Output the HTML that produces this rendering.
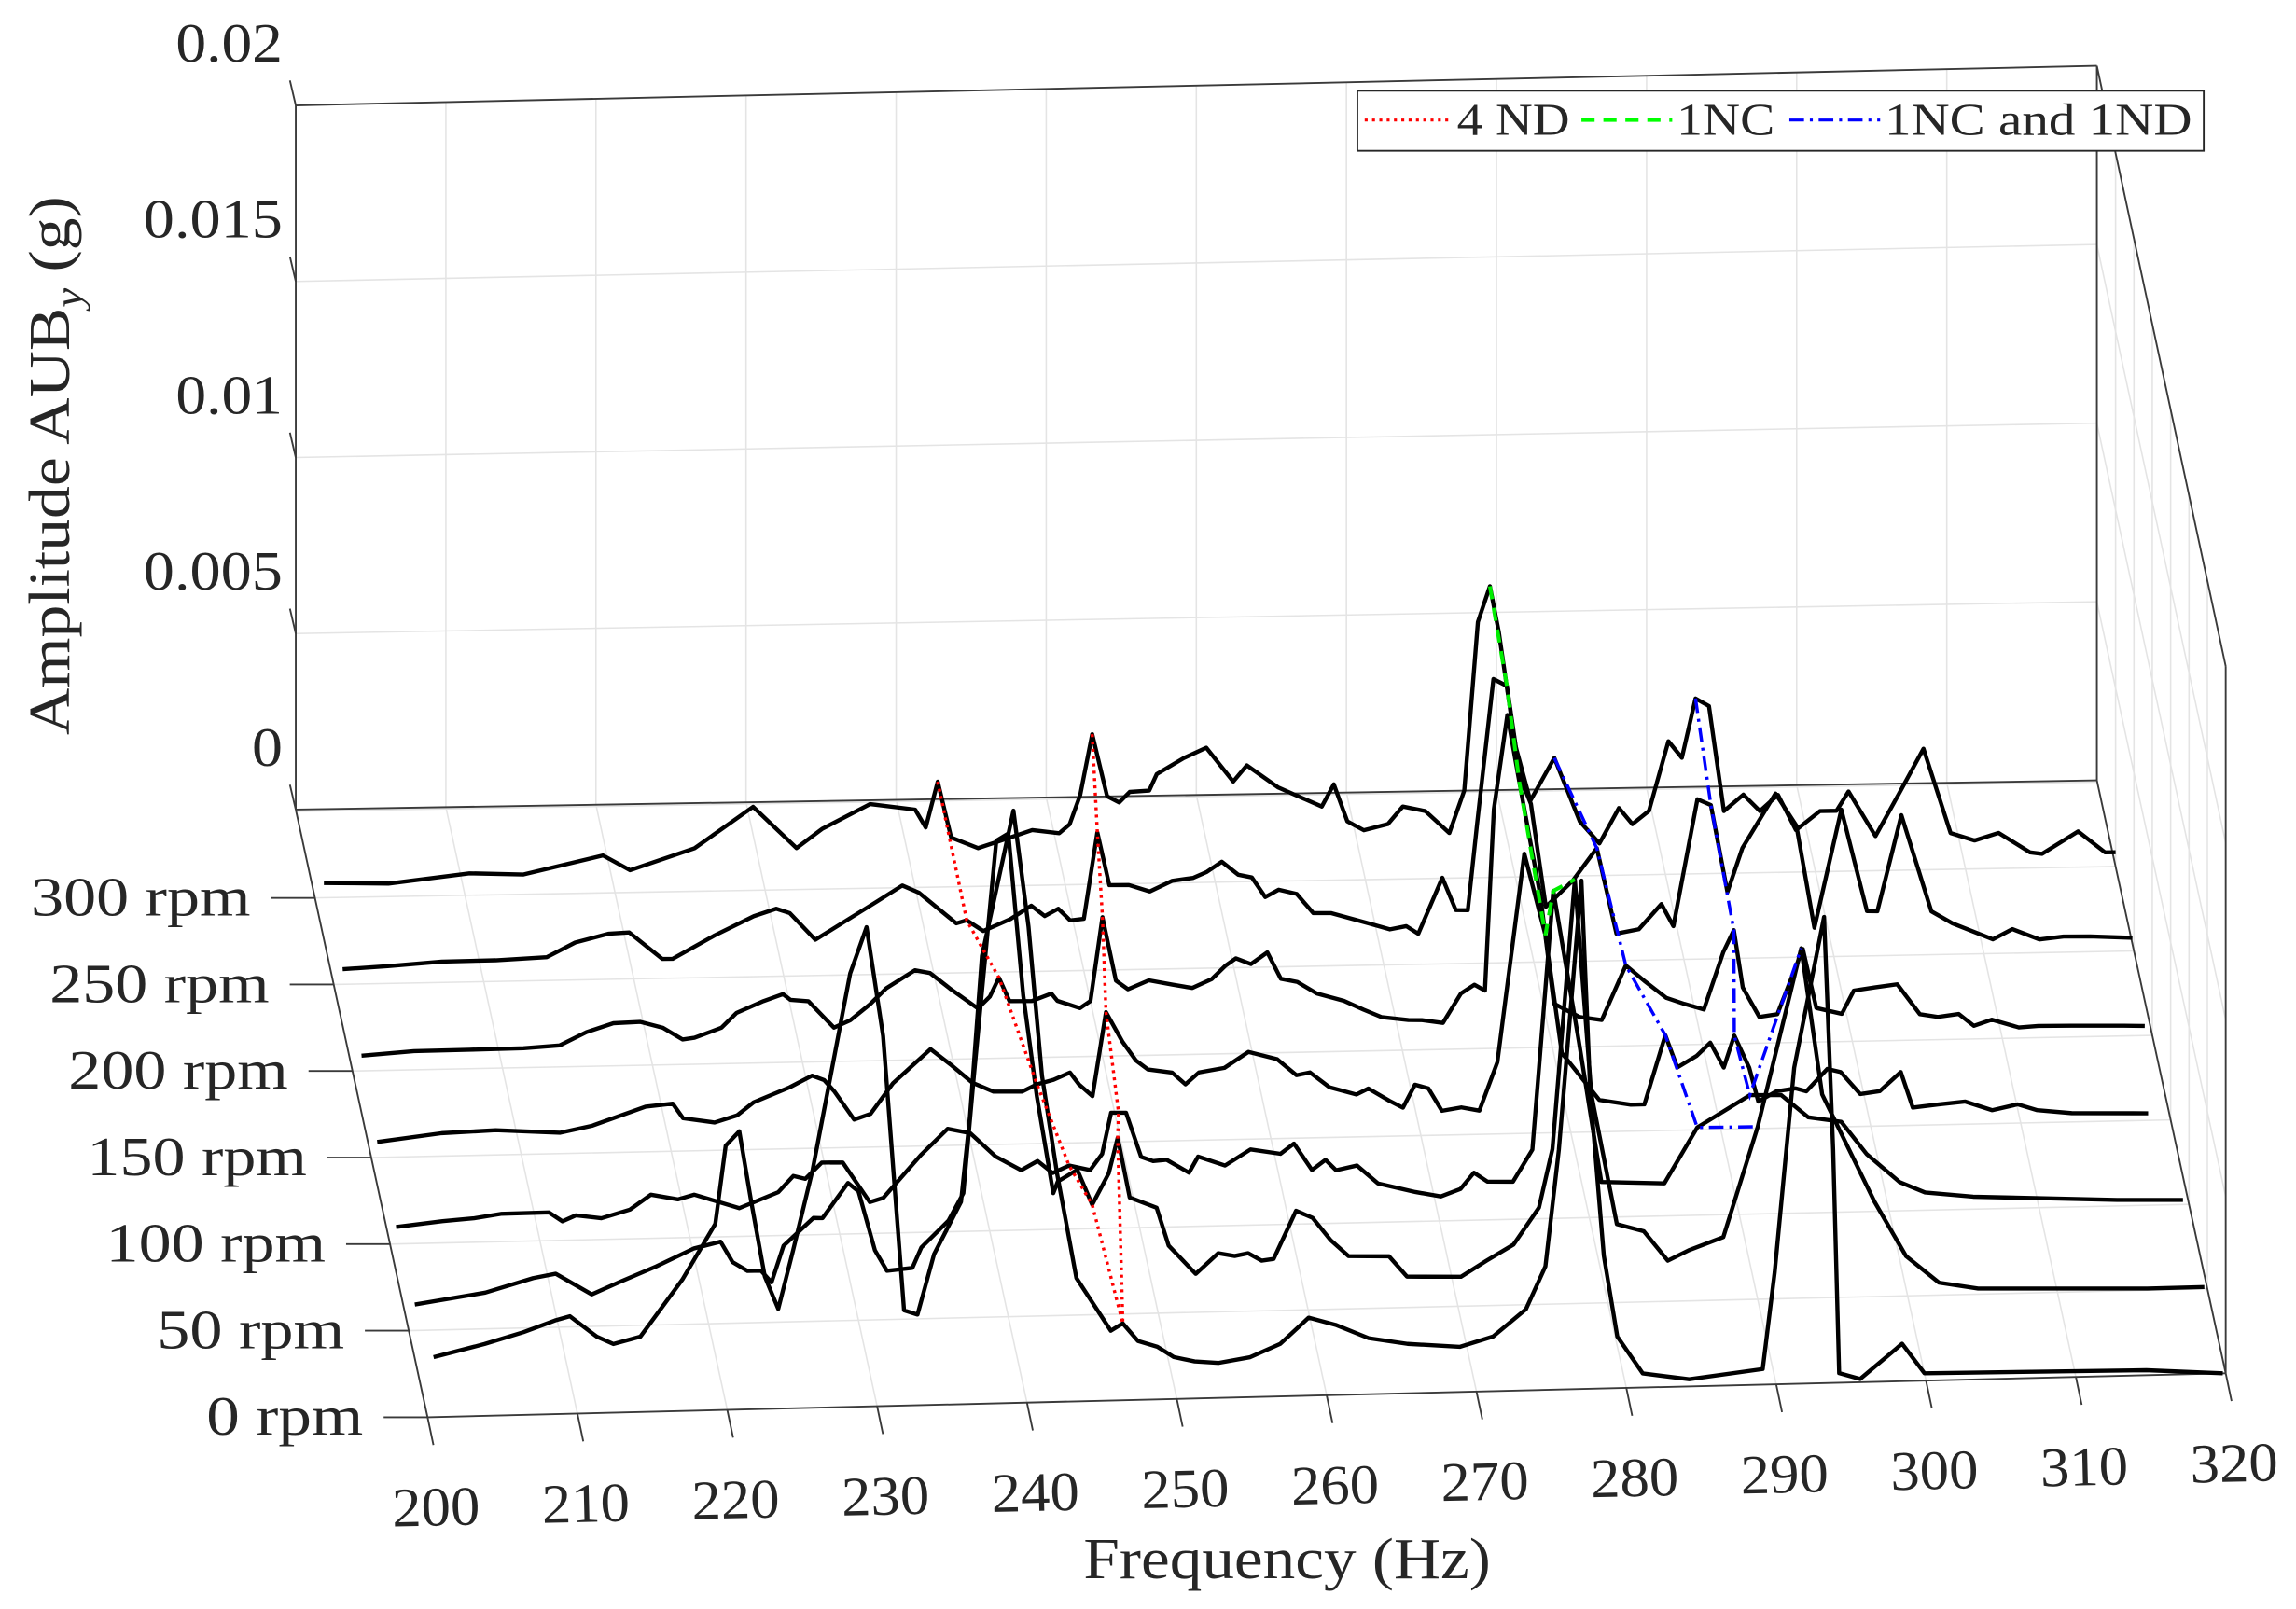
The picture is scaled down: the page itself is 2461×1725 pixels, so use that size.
<!DOCTYPE html>
<html><head><meta charset="utf-8"><style>
html,body{margin:0;padding:0;background:#fff;}
svg{display:block;}
text{font-family:"Liberation Serif",serif;fill:#262626;}
</style></head>
<body>
<svg id="chart" width="2461" height="1725" viewBox="0 0 1568 1099" preserveAspectRatio="none" xmlns="http://www.w3.org/2000/svg">
<rect x="0" y="0" width="1568" height="1099" fill="#fff"/>
<g id="grid"></g>
<g id="box"></g>
<g id="traces"></g>
<g id="modes"></g>
<g id="labels"></g>
<text transform="translate(47,318) rotate(-90)" text-anchor="middle" font-size="40" textLength="368" lengthAdjust="spacingAndGlyphs">Amplitude AUB<tspan font-size="27" font-style="italic" dy="9">y</tspan><tspan dy="-9">  (g)</tspan></text>
<text x="879" y="1078" text-anchor="middle" font-size="40" textLength="278" lengthAdjust="spacingAndGlyphs">Frequency (Hz)</text>
<g>
<rect x="927" y="62" width="578" height="41" fill="#fff" stroke="#262626" stroke-width="1.2"/>
<line x1="932" y1="82" x2="990" y2="82" stroke="#ff0000" stroke-width="2" stroke-dasharray="2,3"/>
<text x="995" y="92" font-size="31" textLength="77" lengthAdjust="spacingAndGlyphs">4 ND</text>
<line x1="1080" y1="82" x2="1142" y2="82" stroke="#00ff00" stroke-width="2.5" stroke-dasharray="9,6"/>
<text x="1145" y="92" font-size="31" textLength="67" lengthAdjust="spacingAndGlyphs">1NC</text>
<line x1="1222" y1="82" x2="1284" y2="82" stroke="#0000ff" stroke-width="2" stroke-dasharray="10,4,2,4"/>
<text x="1287" y="92" font-size="31" textLength="210" lengthAdjust="spacingAndGlyphs">1NC and 1ND</text>
</g>
</svg>
<script>
// ---- data (frequency in Hz, amplitude in 1e-3 g) ----
const rpms = [0, 50, 100, 150, 200, 250, 300];
const rpmTicks = ['0 rpm','50 rpm','100 rpm','150 rpm','200 rpm','250 rpm','300 rpm'];
const freqTicks = [200,210,220,230,240,250,260,270,280,290,300,310,320];
const ampTicks = [0, 5, 10, 15, 20];
const ampTickLabels = ['0','0.005','0.01','0.015','0.02'];

const f0 = [200.4,203.8,206.4,208.5,209.5,211.3,212.4,214.2,217.0,219.2,219.9,220.8,221.6,222.5,223.4,224.4,225.7,226.8,228.2,229.3,230.4,231.8,232.7,233.8,235.6,236.2,237.0,239.1,240.1,241.0,242.0,243.3,245.6,246.4,247.4,248.7,249.8,251.2,252.8,254.9,256.9,258.8,260.6,262.8,265.4,268.9,271.1,273.3,274.6,275.5,277.0,277.6,278.5,279.4,281.1,284.2,289.1,289.9,291.2,293.2,293.8,294.2,295.6,298.4,299.9,314.7,319.8];
const a0 = [1.7,2.04,2.35,2.66,2.77,2.17,1.95,2.14,3.73,5.29,7.5,7.9,5.9,3.76,2.83,4.49,6.76,9.2,12.3,13.6,10.5,2.7,2.57,4.27,5.74,8.15,12.7,16.8,13.5,9.26,6.5,3.5,1.98,2.18,1.67,1.49,1.19,1.05,0.99,1.13,1.49,2.21,1.99,1.59,1.4,1.28,1.55,2.3,3.5,6.8,14.4,8.34,3.76,1.46,0.4,0.2,0.44,3.18,8.95,13.2,6.6,0.27,0.09,1.06,0.21,0.14,0];

const f50 = [200.4,205.1,208.3,209.8,212.2,214.0,216.5,219.0,220.8,221.6,222.6,223.5,224.2,225.0,227.0,227.6,229.3,230.0,231.1,231.9,233.6,234.2,236.0,237.0,237.7,239.2,240.0,241.0,241.9,243.0,243.3,244.6,245.6,246.7,247.3,248.1,249.9,250.7,252.5,254.0,255.1,256.0,256.9,257.7,259.2,260.3,261.5,262.7,265.4,266.6,270.2,271.9,273.7,275.4,276.3,277.8,278.9,280.6,282.4,284.0,285.4,287.7,290.0,292.9,294.3,297.8,299.9,302.1,304.7,316.0,319.8];
const a50 = [0.74,1.03,1.41,1.52,0.91,1.23,1.66,2.14,2.32,1.73,1.47,1.47,1.13,2.16,2.93,2.92,3.9,3.65,1.97,1.38,1.45,2.02,2.76,3.53,6.85,13.5,13.7,9.1,6.23,3.47,3.8,4.12,3.12,4.0,5.0,3.3,2.99,1.91,1.09,1.66,1.57,1.64,1.42,1.46,2.81,2.6,1.96,1.49,1.46,0.87,0.83,1.27,1.71,2.74,4.39,12.0,5.9,2.22,2.0,1.15,1.43,1.78,4.88,9.9,5.75,2.68,1.12,0.35,0.16,0.05,0.05];

const f100 = [200.4,203.5,205.6,207.4,210.6,211.5,212.4,214.1,216.0,217.4,219.2,220.3,223.3,225.9,226.9,227.7,228.8,230.2,232.0,232.9,235.4,237.2,238.7,240.4,242.1,243.2,244.2,245.3,246.7,247.5,248.1,249.1,250.1,250.9,251.8,253.3,253.9,255.7,257.4,259.4,260.3,261.5,262.4,263.1,264.5,265.9,268.4,270.1,271.4,272.3,273.2,274.9,276.2,277.6,279.3,280.8,285.0,287.2,290.7,292.8,294.6,296.8,298.5,300.7,302.4,305.6,315.2,319.6];
const a100 = [0.48,0.62,0.68,0.79,0.8,0.54,0.7,0.6,0.83,1.24,1.09,1.21,0.8,1.23,1.68,1.59,2.04,2.03,0.89,1.0,2.19,2.92,2.78,2.1,1.7,1.95,1.6,1.8,1.66,2.11,3.27,3.26,2.0,1.87,1.9,1.52,1.97,1.7,2.14,2.0,2.28,1.52,1.8,1.5,1.62,1.1,0.83,0.69,0.89,1.34,1.08,1.06,1.96,9.26,5.0,1.0,0.92,2.48,3.36,3.34,2.7,2.55,1.62,0.81,0.5,0.35,0.17,0.13];

const f150 = [200.4,204.7,208.3,212.6,214.7,218.3,220.1,220.8,222.9,224.4,225.5,227.9,229.4,230.2,230.9,232.2,233.3,234.8,237.3,238.7,240.1,241.5,243.4,244.4,245.5,246.6,247.2,248.1,249.0,250.1,251.0,251.8,253.4,254.3,255.2,256.9,258.5,260.4,261.7,262.6,263.9,265.7,266.5,267.9,268.8,269.6,270.5,271.4,272.7,273.9,275.1,276.9,278.3,279.4,281.9,284.0,284.9,286.3,287.1,288.4,289.3,290.2,290.9,291.9,292.5,293.7,295.0,295.7,297.1,298.0,299.3,300.6,302.0,302.8,304.5,306.3,308.1,309.8,311.1,313.4,318.5];
const a150 = [0.44,0.65,0.7,0.59,0.77,1.28,1.35,0.93,0.79,0.98,1.34,1.74,2.06,1.93,1.59,0.79,0.94,1.8,2.74,2.27,1.76,1.5,1.48,1.68,1.8,1.99,1.65,1.31,3.68,2.83,2.29,2.03,1.93,1.59,1.92,2.03,2.47,2.25,1.78,1.85,1.42,1.2,1.36,1.0,0.8,1.44,1.33,0.69,0.77,0.67,2.03,7.9,5.59,2.25,0.9,0.75,0.75,2.69,1.77,2.09,2.45,1.74,2.64,1.72,0.76,1.04,1.11,1.02,1.64,1.54,0.91,0.98,1.51,0.5,0.57,0.64,0.38,0.53,0.35,0.25,0.2];

const f200 = [200.6,204.1,207.8,211.4,213.8,215.6,217.4,219.2,220.7,222.0,222.8,224.6,225.6,227.4,228.7,229.2,230.4,232.1,233.2,234.5,235.6,237.5,238.5,239.9,241.7,242.5,243.1,243.8,245.3,246.6,247.0,248.5,249.2,250.0,250.9,251.7,253.1,254.7,256.0,257.3,258.2,258.9,259.9,261.0,261.9,263.0,264.3,266.1,267.4,268.6,270.4,271.3,272.7,273.9,274.8,275.5,276.1,277.0,277.8,279.2,280.1,281.8,283.3,284.9,286.2,287.6,288.8,290.1,291.4,292.1,292.7,293.8,295.0,296.7,297.6,299.3,300.1,301.5,303.0,304.5,305.7,307.1,308.1,309.3,311.1,312.4,314.6,318.1,319.5];
const a200 = [0.43,0.53,0.54,0.55,0.61,0.97,1.21,1.23,1.05,0.71,0.75,1.02,1.43,1.75,1.94,1.77,1.72,0.96,1.16,1.6,2.05,2.54,2.45,1.98,1.42,1.75,2.28,1.61,1.6,1.8,1.59,1.37,1.57,3.93,2.13,1.88,2.12,1.98,1.88,2.12,2.49,2.69,2.52,2.84,2.09,1.99,1.65,1.43,1.17,0.95,0.85,0.84,0.75,1.57,1.81,1.64,6.75,9.4,7.5,4.27,1.23,0.84,0.74,2.27,1.8,1.33,1.15,0.98,2.59,3.2,1.58,0.74,0.81,2.63,0.96,0.78,1.43,1.51,1.58,0.73,0.64,0.71,0.37,0.53,0.3,0.33,0.32,0.29,0.27];

const f250 = [200.6,203.6,207.2,210.8,214.2,216.1,218.3,219.7,221.9,222.6,225.4,228.0,229.5,230.4,232.1,236.2,237.9,239.0,241.5,242.2,243.3,245.1,246.5,247.4,248.3,249.1,250.0,250.9,251.7,253.0,254.4,255.9,257.3,258.2,259.2,260.3,261.2,262.1,263.0,264.2,265.3,266.5,269.0,270.4,271.5,272.3,273.9,274.8,275.6,276.2,277.3,278.2,279.1,279.8,280.8,282.6,284.2,285.5,287.0,288.5,289.3,290.9,291.8,292.9,293.9,296.1,297.5,298.7,300.5,302.2,302.9,304.5,306.5,307.9,310.6,311.9,313.7,315.3,317.1,319.9];
const a250 = [0.43,0.49,0.59,0.6,0.66,1.06,1.29,1.32,0.55,0.55,1.19,1.71,1.91,1.78,1.01,2.06,2.5,2.29,1.4,1.48,1.17,1.49,1.86,1.56,1.76,1.42,1.46,3.9,2.4,2.39,2.2,2.49,2.56,2.72,3.0,2.62,2.54,1.98,2.18,2.05,1.5,1.49,1.18,1.0,1.08,0.86,2.43,1.51,1.5,3.87,8.0,7.8,5.2,4.46,1.55,2.28,3.18,0.76,0.87,1.57,0.94,4.5,4.33,1.87,3.1,4.62,3.7,0.82,4.13,1.26,1.25,3.94,1.22,0.87,0.4,0.68,0.37,0.44,0.43,0.37];

const f300 = [200.6,204.9,210.3,213.9,219.2,221.0,225.3,229.2,232.1,233.8,237.0,240.0,240.7,241.5,242.4,244.2,246.0,247.8,249.6,250.3,251.0,251.8,252.8,253.6,254.3,255.6,256.1,257.9,259.4,261.2,262.1,264.2,267.1,267.9,268.8,269.9,271.5,272.5,274.0,275.6,276.6,277.5,278.3,278.9,280.0,281.0,282.6,284.3,285.6,286.9,287.8,288.9,290.2,291.1,292.0,292.9,293.9,295.2,296.3,297.5,298.7,300.3,301.4,302.2,304.0,305.7,307.2,309.0,310.6,312.2,314.3,315.1,317.5,319.3,320.0];
const a300 = [0.42,0.37,0.62,0.56,1.06,0.63,1.22,2.36,1.17,1.7,2.38,2.2,1.69,2.98,1.39,1.08,1.32,1.56,1.46,1.71,2.53,4.24,2.48,2.3,2.59,2.62,3.08,3.52,3.8,2.83,3.28,2.64,2.08,2.7,1.65,1.39,1.55,2.04,1.9,1.27,2.46,7.2,8.2,6.9,3.7,2.14,3.33,1.53,0.9,1.89,1.43,1.79,3.74,3.27,4.93,4.71,1.75,2.2,1.73,2.18,1.18,1.7,1.7,2.24,0.97,2.25,3.4,1.02,0.8,1.0,0.44,0.39,1.0,0.4,0.4];

// mode tracking lines: rpm, frequency, amplitude
const nd4aRpm = [300,250,200,150,100,50,0];
const nd4aF = [241.5,242.2,243.1,244.4,245.3,245.6,246.4];
const nd4aA = [2.98,1.48,2.28,1.68,1.8,3.12,2.18];
const nd4bRpm = [300,250,200,150,100,50,0];
const nd4bF = [251.8,250.9,250.0,249.0,248.6,247.3,246.4];
const nd4bA = [4.24,3.9,3.93,3.68,3.27,5.0,2.18];
const nc1Rpm = [300,250,200,150,100,50];
const nc1F = [278.3,278.2,277.8,278.3,277.6,277.8];
const nc1A = [8.2,7.8,7.5,5.59,9.26,12.0];
const ncndaRpm = [300,250,200,150,100,50];
const ncndaF = [282.6,284.2,284.9,286.3,287.2,290.0];
const ncndaA = [3.33,3.18,2.27,2.69,2.48,4.88];
const ncndbRpm = [300,250,200,150,100,50];
const ncndbF = [292.0,291.8,292.1,290.9,290.7,292.9];
const ncndbA = [4.93,4.33,3.2,2.64,3.36,9.9];

// ---- projection ----
const SVGNS = 'http://www.w3.org/2000/svg';
function proj(f, r, z) {
  const u = (f - 200) / 120, v = r / 351;
  const x = (292 - 90 * v) + u * (1228 + 2 * v);
  const yf = 968 - 415 * v - u * (30 - 10 * v);
  const y = yf - z * 24.05 * (1 + 0.004 * u + 0.0106 * u * v);
  return [x, y];
}
function mk(tag, attrs, parent) {
  const el = document.createElementNS(SVGNS, tag);
  for (const k in attrs) el.setAttribute(k, attrs[k]);
  parent.appendChild(el);
  return el;
}
function line(p, q, stroke, w, parent) {
  return mk('line', {x1: p[0], y1: p[1], x2: q[0], y2: q[1], stroke: stroke, 'stroke-width': w}, parent);
}
const grid = document.getElementById('grid');
const box = document.getElementById('box');
const traces = document.getElementById('traces');
const modes = document.getElementById('modes');
const labels = document.getElementById('labels');
const GC = '#e4e4e4', RMAX = 351;

freqTicks.forEach(f => {
  const g = line(proj(f, 0, 0), proj(f, RMAX, 0), GC, 1, grid);
  
  
  const b = line(proj(f, RMAX, 0), proj(f, RMAX, 20), GC, 1, grid);
  
  
});
rpms.concat([350]).forEach(r => {
  const g = line(proj(200, r, 0), proj(320, r, 0), GC, 1, grid);
  
  
  const s = line(proj(320, r, 0), proj(320, r, 20), GC, 1, grid);
  
  
});
ampTicks.forEach(z => {
  const b = line(proj(200, RMAX, z), proj(320, RMAX, z), GC, 1, grid);
  
  
  const s = line(proj(320, 0, z), proj(320, RMAX, z), GC, 1, grid);
  
  
});

const BC = '#3a3a3a';
[[[200,RMAX,0],[200,RMAX,20]],[[200,RMAX,20],[320,RMAX,20]],[[320,RMAX,0],[320,RMAX,20]],
 [[200,RMAX,0],[320,RMAX,0]],[[320,RMAX,20],[320,0,20]],[[320,0,0],[320,0,20]],
 [[200,0,0],[320,0,0]],[[200,0,0],[200,RMAX,0]],[[320,0,0],[320,RMAX,0]]].forEach((e, i) => {
  const l = line(proj(...e[0]), proj(...e[1]), BC, 1.2, box);
  
  
});

const ampLabelWidths = [21, 95, 73, 95, 73];
ampTicks.forEach((z, i) => {
  const p = proj(200, RMAX, z);
  const t = line([p[0] - 4, p[1] - 17], p, BC, 1.2, box);
  
  
  const tx = mk('text', {x: p[0] - 9, y: p[1] - 30, 'text-anchor': 'end', 'font-size': 38, textLength: ampLabelWidths[i], lengthAdjust: 'spacingAndGlyphs'}, labels);
  tx.textContent = ampTickLabels[i];
  
  
});
const rpmLabelWidths = [107, 128, 150, 150, 150, 150, 150];
rpms.forEach((r, i) => {
  const p = proj(200, r, 0);
  const t = line([p[0] - 30, p[1]], p, BC, 1.2, box);
  
  
  const tx = mk('text', {x: p[0] - 44, y: p[1] + 12, 'text-anchor': 'end', 'font-size': 38, textLength: rpmLabelWidths[i], lengthAdjust: 'spacingAndGlyphs'}, labels);
  tx.textContent = rpmTicks[i];
  
  
});
freqTicks.forEach(f => {
  const p = proj(f, 0, 0);
  const t = line(p, [p[0] + 4, p[1] + 19], BC, 1.2, box);
  
  
  const cx = p[0] + 6, cy = p[1] + 74;
  const tx = mk('text', {x: cx, y: cy, 'text-anchor': 'middle', 'font-size': 38, textLength: 60, lengthAdjust: 'spacingAndGlyphs', transform: 'rotate(-1.4 ' + cx + ' ' + cy + ')'}, labels);
  tx.textContent = String(f);
  
  
});

const series = [[0, f0, a0], [50, f50, a50], [100, f100, a100], [150, f150, a150], [200, f200, a200], [250, f250, a250], [300, f300, a300]];
series.forEach(s => {
  const pts = s[1].map((f, i) => proj(f, s[0], s[2][i]).map(n => n.toFixed(1)).join(',')).join(' ');
  const pl = mk('polyline', {points: pts, fill: 'none', stroke: '#000', 'stroke-width': 2.8, 'stroke-linejoin': 'round'}, traces);
  
  
});

function modeLine(rs, fs, as, color, dash, w, name) {
  const pts = rs.map((r, i) => proj(fs[i], r, as[i]).map(n => n.toFixed(1)).join(',')).join(' ');
  const pl = mk('polyline', {points: pts, fill: 'none', stroke: color, 'stroke-width': w, 'stroke-dasharray': dash}, modes);
  
  
}
modeLine(nd4aRpm, nd4aF, nd4aA, '#ff0000', '2,3', 2.2, 'mode-4nd-a');
modeLine(nd4bRpm, nd4bF, nd4bA, '#ff0000', '2,3', 2.2, 'mode-4nd-b');
modeLine(nc1Rpm, nc1F, nc1A, '#00ee00', '9,6', 2.6, 'mode-1nc');
modeLine(ncndaRpm, ncndaF, ncndaA, '#0000ff', '10,4,2,4', 2.2, 'mode-1nc-1nd-a');
modeLine(ncndbRpm, ncndbF, ncndbA, '#0000ff', '10,4,2,4', 2.2, 'mode-1nc-1nd-b');
</script>
</body></html>
